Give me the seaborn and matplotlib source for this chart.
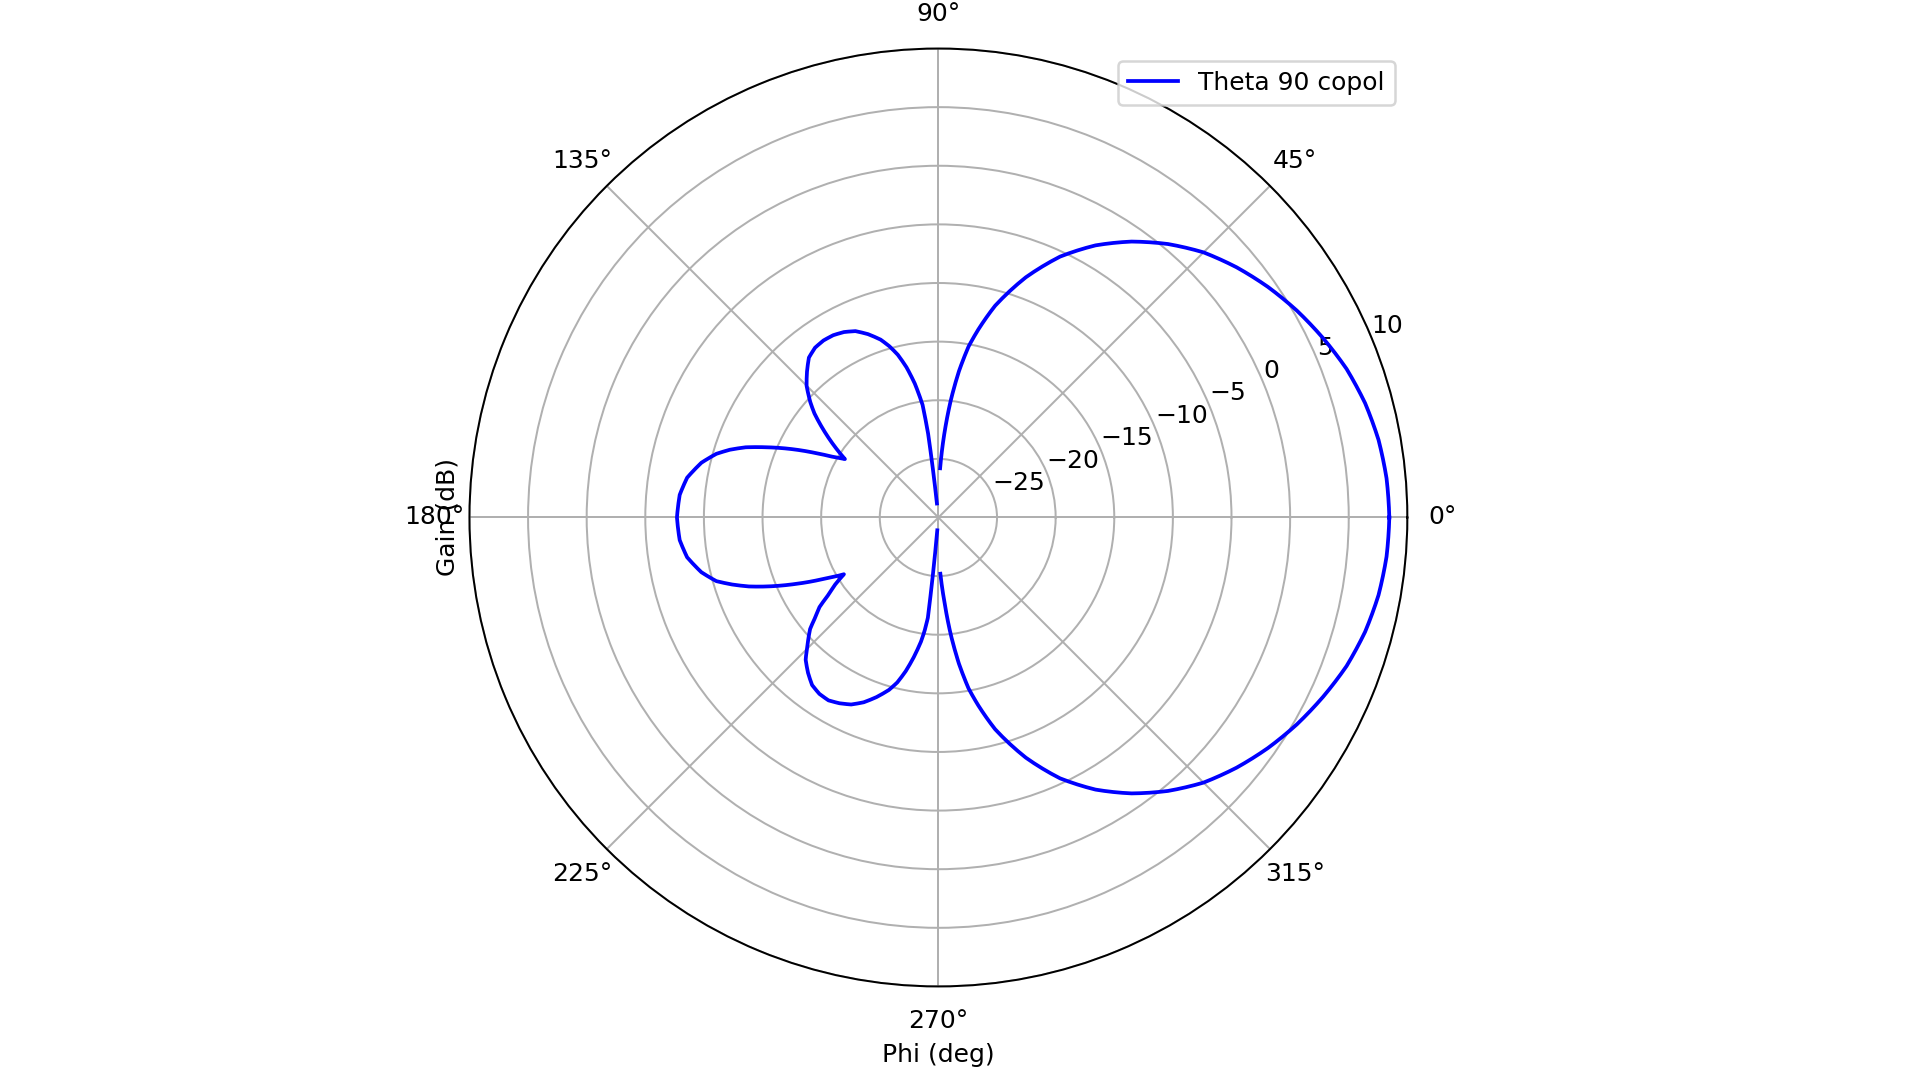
import numpy as np
import pandas as pd
import matplotlib
matplotlib.use("Agg")
import matplotlib.pyplot as plt
import seaborn as sns

# Azimuth angle phi (degrees) and co-polar gain (dB).
# -70 dB marks the deep nulls that fall below the -30 dB plot floor.
phi_deg = [0, 5, 10, 15, 20, 25, 30, 35, 40, 45, 50, 55, 60, 65, 70, 75, 78, 80,
           82, 84, 86, 88, 90,
           96, 97, 98, 100, 102, 104, 106, 108, 111, 114, 117, 120, 123, 126,
           129, 132, 135, 138, 140, 142, 144, 146, 148,
           150, 152, 155, 158, 160, 162, 164, 167, 171, 175, 180,
           185, 189, 193, 196, 198, 200, 202, 205, 208, 211,
           213, 215, 217, 219, 221, 224, 227, 230, 233, 236, 239, 242, 245, 248,
           251, 254, 256, 258, 260, 262, 263, 264, 265, 270,
           272, 274, 276, 278, 280, 282, 285, 290, 295, 300, 305, 310, 315, 320,
           325, 330, 335, 340, 345, 350, 355, 360]
gain_db = [8.46, 8.37, 8.12, 7.68, 7.05, 6.2, 5.3, 4.3, 3.2, 1.98, 0.45, -1.27,
           -3.2, -5.45, -8.2, -11.3, -13.6, -15.2, -17.4, -20.0, -22.9, -25.8,
           -70.0,
           -28.8, -22.8, -20.3, -18.4, -16.9, -15.7, -14.8, -14.05, -13.25,
           -12.6, -12.25, -12.05, -12.0, -12.1, -12.45, -13.25, -14.1, -15.3,
           -16.2, -17.3, -18.4, -19.5, -20.6,
           -19.7, -18.4, -16.2, -14.0, -12.5, -11.3, -10.3, -9.25, -8.3, -7.85,
           -7.7,
           -7.85, -8.3, -9.25, -10.3, -11.5, -12.8, -14.3, -16.6, -18.8, -20.6,
           -19.5, -18.6, -17.3, -16.5, -15.5, -14.5, -13.4, -12.7, -12.1, -11.85,
           -11.8, -12.05, -12.4, -13.0, -13.8, -14.7, -15.5, -16.6, -17.9, -19.3,
           -20.2, -21.4, -28.9, -70.0,
           -25.2, -22.9, -20.0, -17.4, -15.2, -13.6, -11.3, -8.2, -5.45, -3.2,
           -1.27, 0.45, 1.98, 3.2, 4.3, 5.3, 6.2, 7.05, 7.68, 8.12, 8.37, 8.46]
series_label = "Theta 90 copol"
r_ticks = [-25, -20, -15, -10, -5, 0, 5, 10]
r_limits = [-30, 10]

df = pd.DataFrame({"phi": np.deg2rad(phi_deg), "gain": gain_db})

fig = plt.figure(figsize=(1920 / 180, 1080 / 180), dpi=180)
ax = fig.add_axes([0.2445, 0.0866, 0.4885, 0.8685], projection="polar")
sns.lineplot(data=df, x="phi", y="gain", ax=ax, color="b", label=series_label,
             sort=False, estimator=None)
# draw each segment as a polar arc (linear in angle and radius) instead of a chord
for line in ax.get_lines():
    line.get_path()._interpolation_steps = 8
ax.set_ylim(r_limits[0], r_limits[1])
ax.set_yticks(r_ticks)
ax.set_xlabel("Phi (deg)")
ax.set_ylabel("Gain (dB)")
ax.legend(loc="upper right")
fig.savefig("out.png", dpi=180)
